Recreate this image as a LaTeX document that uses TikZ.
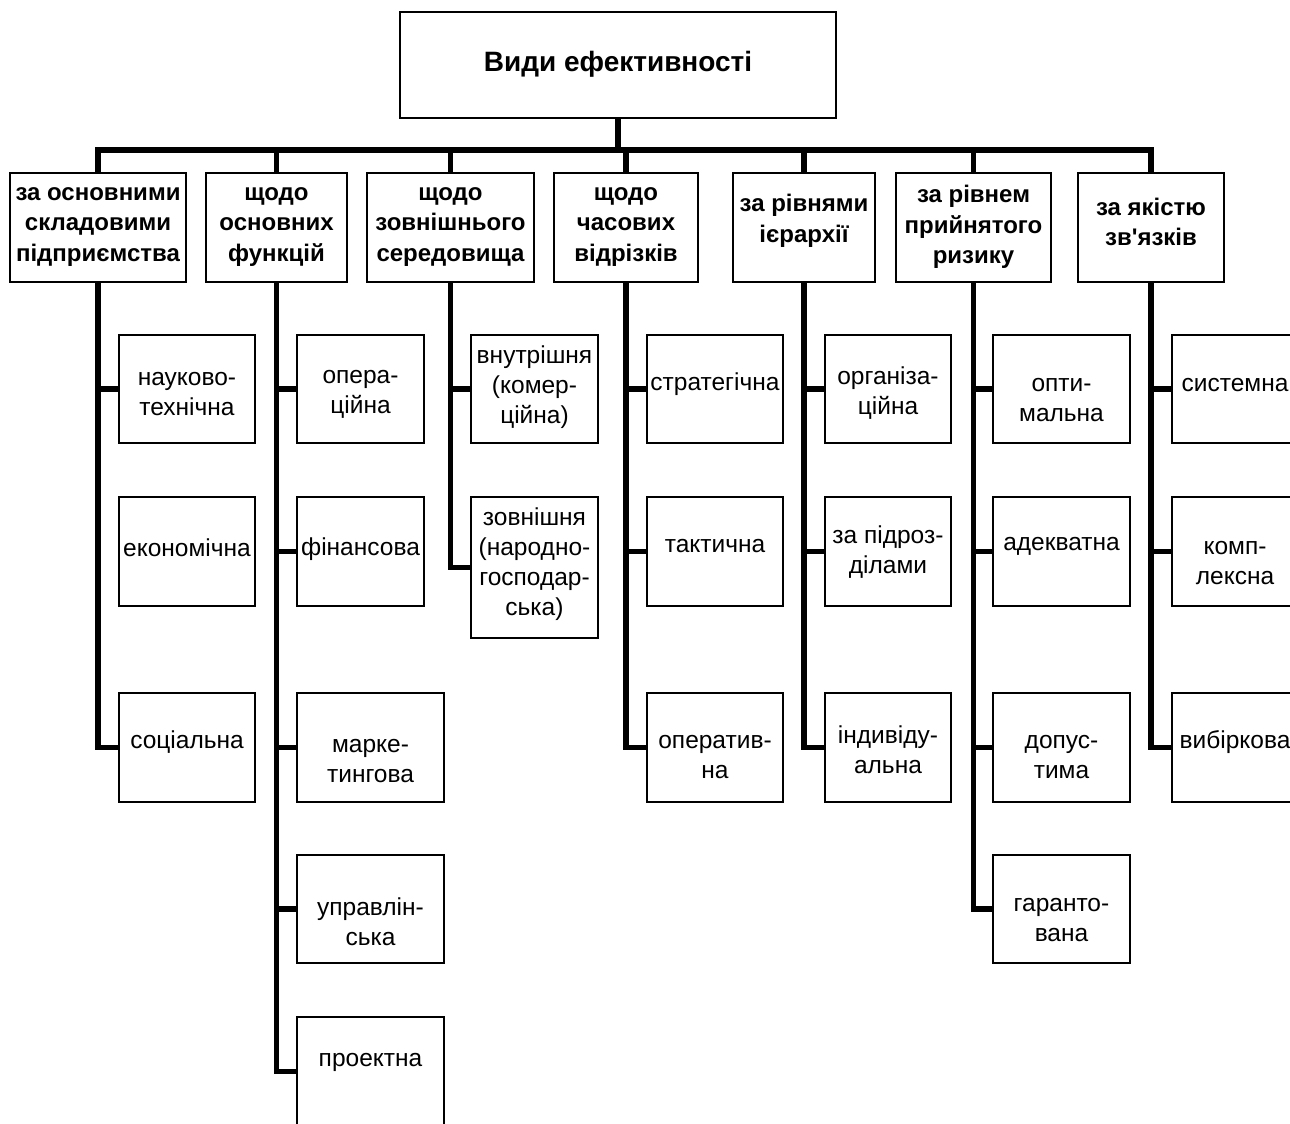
\documentclass[tikz,border=0pt]{standalone}
\usepackage{fontspec}
\setmainfont{Liberation Sans}
\usetikzlibrary{fit}

% box with its text: name, left, top, right, bottom, text centre y, text style, text
\newcommand\textbox[8]{%
  \node[box, fit={(#2,#3) (#4,#5)}] (#1) {};
  \node[#7] (#1t) at ({(#2+#4)/2},#6) {#8};
}
% kind box: name, left, top, right, bottom, text centre y, text
\newcommand\leafnode[7]{\textbox{#1}{#2}{#3}{#4}{#5}{#6}{leaftext}{#7}}
% criterion box: name, left, right, text centre y, text
\newcommand\catnode[5]{\textbox{#1}{#2}{173}{#3}{282}{#4}{cattext}{#5}}

\begin{document}
\begin{tikzpicture}[x=1pt,y=-1pt,
  box/.style={draw, line width=1.5pt, inner sep=0pt, outer sep=0pt},
  conn/.style={line width=5.5pt},
  titletext/.style={font=\bfseries\fontsize{28}{32}\selectfont, align=center, inner sep=0pt},
  cattext/.style={font=\bfseries\fontsize{24}{30.5}\selectfont, align=center, inner sep=0pt},
  leaftext/.style={font=\fontsize{24.5}{30}\selectfont, align=center, inner sep=0pt},
]
\path[use as bounding box, clip] (0,0) rectangle (1290,1124);
\fill[white] (0,0) rectangle (1290,1124);

% root
\textbox{top}{400}{12}{836}{118}{64}{titletext}{Види ефективності}

% classification criteria
\catnode{c1}{10}{186}{227}{за основними\\складовими\\підприємства}
\catnode{c2}{206}{347}{227}{щодо\\основних\\функцій}
\catnode{c3}{367}{534}{227}{щодо\\зовнішнього\\середовища}
\catnode{c4}{554}{698}{227}{щодо\\часових\\відрізків}
\catnode{c5}{733}{875}{221}{за рівнями\\ієрархії}
\catnode{c6}{896}{1051}{227}{за рівнем\\прийнятого\\ризику}
\catnode{c7}{1078}{1224}{222}{за якістю\\зв\textquotesingle язків}

% kinds under each criterion
\leafnode{l11}{119}{335}{255}{443}{394}{науково-\\технічна}
\leafnode{l12}{119}{497}{255}{606}{548}{економічна}
\leafnode{l13}{119}{693}{255}{802}{742}{соціальна}

\leafnode{l21}{297}{335}{424}{443}{394}{опера-\\ційна}
\leafnode{l22}{297}{497}{424}{606}{549}{фінансова}
\leafnode{l23}{297}{693}{444}{802}{761}{марке-\\тингова}
\leafnode{l24}{297}{855}{444}{963}{922}{управлін-\\ська}
\leafnode{l25}{297}{1017}{444}{1126}{1062}{проектна}

\leafnode{l31}{471}{335}{598}{443}{387}{внутрішня\\(комер-\\ційна)}
\leafnode{l32}{471}{497}{598}{638}{564}{зовнішня\\(народно-\\господар-\\ська)}

\leafnode{l41}{647}{335}{783}{443}{384}{стратегічна}
\leafnode{l42}{647}{497}{783}{606}{546}{тактична}
\leafnode{l43}{647}{693}{783}{802}{757}{оператив-\\на}

\leafnode{l51}{825}{335}{951}{443}{393}{організа-\\ційна}
\leafnode{l52}{825}{497}{951}{606}{552}{за підроз-\\ділами}
\leafnode{l53}{825}{693}{951}{802}{750}{індивіду-\\альна}

\leafnode{l61}{993}{335}{1130}{443}{400}{опти-\\мальна}
\leafnode{l62}{993}{497}{1130}{606}{546}{адекватна}
\leafnode{l63}{993}{693}{1130}{802}{757}{допус-\\тима}
\leafnode{l64}{993}{855}{1130}{963}{920}{гаранто-\\вана}

\leafnode{l71}{1172}{335}{1298}{443}{385}{системна}
\leafnode{l72}{1172}{497}{1298}{606}{563}{комп-\\лексна}
\leafnode{l73}{1172}{693}{1298}{802}{742}{вибіркова}

% bus from the root to the criteria
\coordinate (bus) at (top.south |- 0,150);
\draw[conn] (top.south) -- (bus);
\foreach \c in {c1,c2,c3,c4,c5,c6,c7}
  \draw[conn] (bus) -| (\c.north);

% stems with branches to the kinds
\foreach \c/\l in {c1/l11, c1/l13,
                   c2/l21, c2/l22, c2/l23, c2/l24, c2/l25,
                   c3/l31, c3/l32,
                   c4/l41, c4/l42, c4/l43,
                   c5/l51, c5/l52, c5/l53,
                   c6/l61, c6/l62, c6/l63, c6/l64,
                   c7/l71, c7/l72, c7/l73}
  \draw[conn] (\c.south) |- (\l.west);
\end{tikzpicture}
\end{document}
